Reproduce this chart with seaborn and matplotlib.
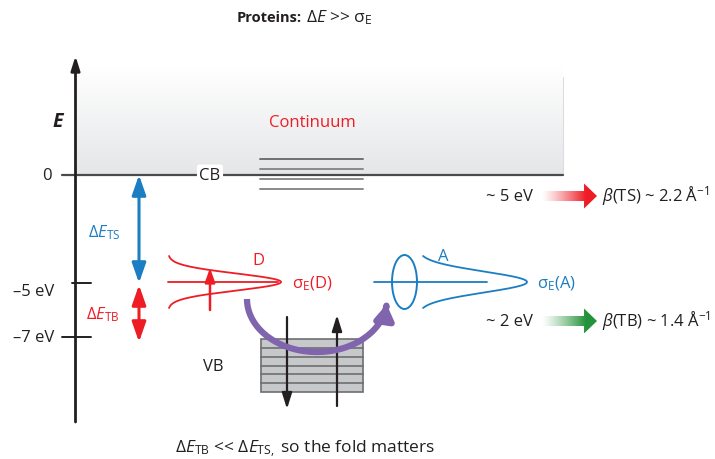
import numpy as np
import matplotlib
matplotlib.use("Agg")
import matplotlib.pyplot as plt
import seaborn as sns
import pandas as pd
from matplotlib.patches import Polygon, Ellipse, FancyArrowPatch, Rectangle
from matplotlib.path import Path

# ---------------- data ----------------
energy_ticks_eV = [0, -5, -7]
energy_tick_labels = ["0", "–5 eV", "–7 eV"]
band_labels = ["CB", "VB"]
continuum_label = "Continuum"
n_continuum_levels = 4
n_vb_levels = 6
gap_labels = ["Δ$\\mathit{E}_\\mathrm{TS}$", "Δ$\\mathit{E}_\\mathrm{TB}$"]
site_labels = ["D", "A"]
sigma_labels = ["σ$_\\mathrm{E}$(D)", "σ$_\\mathrm{E}$(A)"]
barrier_labels = ["~ 5 eV", "~ 2 eV"]
beta_labels = ["$\\beta$(TS) ~ 2.2 Å$^{-1}$", "$\\beta$(TB) ~ 1.4 Å$^{-1}$"]
title_bold = "Proteins:"
title_rest = "Δ$\\mathit{E}$ >> σ$_\\mathrm{E}$"
footer_text = "Δ$\\mathit{E}_\\mathrm{TB}$ << Δ$\\mathit{E}_\\mathrm{TS,}$ so the fold matters"

# ---------------- style ----------------
sns.set_theme(style="white")
plt.rcParams["font.family"] = ["Open Sans", "DejaVu Sans"]
plt.rcParams["mathtext.fontset"] = "custom"
plt.rcParams["mathtext.rm"] = "Open Sans"
plt.rcParams["mathtext.it"] = "Open Sans:italic"
plt.rcParams["mathtext.bf"] = "Open Sans:bold"

BLUE = "#1b7ec2"
RED = "#ee1c25"
DARK = "#231f20"
PURPLE = "#8064ad"
FS = 12

fig = plt.figure(figsize=(7.15, 4.6), dpi=100)
ax = fig.add_axes([0, 0, 1, 1])
ax.set_xlim(0, 715)
ax.set_ylim(460, 0)
ax.axis("off")

# schematic energy -> pixel mapping (diagram is not to scale)
def ey(E):
    return float(np.interp(E, [-7, -5, 0], [338, 284, 176]))

y0, y5, y7 = ey(energy_ticks_eV[0]), ey(energy_ticks_eV[1]), ey(energy_ticks_eV[2])
ax_x = 75

# continuum gradient
grad = np.linspace(0, 1, 200)[:, None]
top_c = np.array([1, 1, 1])
bot_c = np.array([0xe5, 0xe6, 0xe8]) / 255
img = top_c[None, None, :] * (1 - grad[:, :, None]) + bot_c[None, None, :] * grad[:, :, None]
img = np.repeat(img, 2, axis=1)
ax.imshow(img, extent=(ax_x, 563, y0, 68), origin="upper", aspect="auto", zorder=0)
ax.plot([563, 563], [78, y0], color="#dcdde0", lw=0.8, zorder=0.5)

# energy axis
ax.annotate("", xy=(ax_x + 0.5, 57), xytext=(ax_x + 0.5, 423),
            arrowprops=dict(arrowstyle="-|>,head_width=0.22,head_length=0.7",
                            color=DARK, lw=2.0, shrinkA=0, shrinkB=0), zorder=3)
ax.text(58, 122, "E", fontsize=14, fontweight="bold", style="italic",
        ha="center", va="center", color=DARK)

# ticks
ax.plot([62, 563], [y0, y0], color="#4a4a4a", lw=1.6, zorder=2)
ax.plot([72, 91], [y5, y5], color=DARK, lw=1.4)
ax.plot([62, 91], [y7, y7], color=DARK, lw=1.4)
ax.text(47, y0, energy_tick_labels[0], fontsize=FS, ha="center", va="center", color=DARK)
ax.text(54, y5 + 8, energy_tick_labels[1], fontsize=FS, ha="right", va="center", color=DARK)
ax.text(54, y7, energy_tick_labels[2], fontsize=FS, ha="right", va="center", color=DARK)

# CB label
ax.text(210, y0, band_labels[0], fontsize=FS, ha="center", va="center", color=DARK,
        bbox=dict(boxstyle="round,pad=0.15", fc="white", ec="none"), zorder=4)
ax.text(312, 123, continuum_label, fontsize=FS, ha="center", va="center", color=RED)

# continuum levels
for i in range(n_continuum_levels):
    yy = 160 + 10 * i
    ax.plot([260, 363], [yy, yy], color="#707070" if i == 0 else "#8a8a8a", lw=1.4, zorder=3)

# gap arrows
def dbl_arrow(x, ya, yb, c):
    ax.annotate("", xy=(x, yb), xytext=(x, ya),
                arrowprops=dict(arrowstyle="<|-|>,head_width=0.35,head_length=1.0",
                                color=c, lw=2.2, shrinkA=0, shrinkB=0), zorder=4)

dbl_arrow(139, y0, y5, BLUE)
dbl_arrow(139, y5 + 2, y7 + 5, RED)
ax.text(104, 233, gap_labels[0], fontsize=FS, ha="center", va="center", color=BLUE)
ax.text(103, 315, gap_labels[1], fontsize=FS, ha="center", va="center", color=RED)

# donor / acceptor energy distributions
yc = y5 - 1
def gauss_side(x_left, x_tip, s, color):
    yy = np.linspace(-26, 26, 300)
    xx = x_left + (x_tip - x_left) * np.exp(-yy ** 2 / (2 * s ** 2))
    df = pd.DataFrame({"x": xx, "y": yc + yy})
    sns.lineplot(data=df, x="x", y="y", sort=False, estimator=None, color=color,
                 lw=1.3, ax=ax, zorder=3)

gauss_side(168, 281, 8.5, RED)
ax.plot([168, 278], [yc, yc], color=RED, lw=1.3)
ax.annotate("", xy=(210, 269), xytext=(210, 311),
            arrowprops=dict(arrowstyle="-|>,head_width=0.25,head_length=0.7",
                            color=RED, lw=1.8, shrinkA=0, shrinkB=0))
ax.text(258, 261, site_labels[0], fontsize=FS, ha="center", va="center", color=RED)
ax.text(292, yc + 1, sigma_labels[0], fontsize=FS, ha="left", va="center", color=RED)

gauss_side(418, 527, 10.5, BLUE)
ax.plot([374, 487], [yc, yc], color=BLUE, lw=1.3, zorder=3)
ax.add_patch(Ellipse((404.5, yc), 25, 54, fill=False, ec=BLUE, lw=1.4, zorder=3))
ax.text(443, 257, site_labels[1], fontsize=FS, ha="center", va="center", color=BLUE)
ax.text(537, yc + 1, sigma_labels[1], fontsize=FS, ha="left", va="center", color=BLUE)

# VB block
ax.add_patch(Rectangle((261, 340), 102, 53, fc="#c7c8ca", ec="#6d6e70", lw=1.2, zorder=2))
for i in range(1, n_vb_levels):
    yy = 340 + 53 * i / n_vb_levels
    ax.plot([261, 363], [yy, yy], color="#6d6e70", lw=1.2, zorder=2)
ax.text(213, 367, band_labels[1], fontsize=FS, ha="center", va="center", color=DARK)

# black arrows through VB
ax.annotate("", xy=(287, 410), xytext=(287, 318),
            arrowprops=dict(arrowstyle="-|>,head_width=0.25,head_length=0.8",
                            color=DARK, lw=1.6, shrinkA=0, shrinkB=0), zorder=5)
ax.annotate("", xy=(337, 316), xytext=(337, 407),
            arrowprops=dict(arrowstyle="-|>,head_width=0.25,head_length=0.8",
                            color=DARK, lw=1.6, shrinkA=0, shrinkB=0), zorder=5)

# purple hopping arc
th = np.linspace(np.pi, 0.10, 120)
cx, cy, rx, ry = 317, 300, 70, 53
arc = Path(np.column_stack([cx + rx * np.cos(th), cy + ry * np.sin(th)]))
ax.add_patch(FancyArrowPatch(path=arc, arrowstyle="-|>,head_width=3.5,head_length=5.5",
                             color=PURPLE, lw=4.5, mutation_scale=1.6, zorder=6,
                             capstyle="butt"))

# gradient arrows on the right
def grad_arrow(yc_, color):
    x0, x1, x2 = 542, 584, 597
    hw, sw = 12.5, 5
    verts = [(x0, yc_ - sw), (x1, yc_ - sw), (x1, yc_ - hw), (x2, yc_), (x1, yc_ + hw),
             (x1, yc_ + sw), (x0, yc_ + sw)]
    poly = Polygon(verts, closed=True, fc="none", ec="none")
    ax.add_patch(poly)
    rgb = np.array(matplotlib.colors.to_rgb(color))
    n = 200
    a = np.clip(np.linspace(0, 1.25, n), 0, 1) ** 1.2
    im = np.ones((2, n, 4))
    im[:, :, :3] = rgb
    im[:, :, 3] = a
    h = ax.imshow(im, extent=(x0, x2, yc_ + hw, yc_ - hw), origin="upper",
                  aspect="auto", zorder=3, interpolation="bilinear")
    h.set_clip_path(poly)

grad_arrow(197, "#ee1c25")
grad_arrow(322, "#24923a")
ax.text(533, 197, barrier_labels[0], fontsize=FS, ha="right", va="center", color=DARK)
ax.text(533, 322, barrier_labels[1], fontsize=FS, ha="right", va="center", color=DARK)
ax.text(602, 196, beta_labels[0], fontsize=12, ha="left", va="center", color=DARK)
ax.text(602, 321, beta_labels[1], fontsize=12, ha="left", va="center", color=DARK)

# title and footer
ax.text(302, 18, title_bold, fontsize=10.5, fontweight="bold", ha="right", va="center", color=DARK)
ax.text(306, 18, title_rest, fontsize=12.5, ha="left", va="center", color=DARK)
ax.text(305, 449, footer_text, fontsize=12.5, ha="center", va="center", color=DARK)

fig.savefig("out.png", dpi=100)
